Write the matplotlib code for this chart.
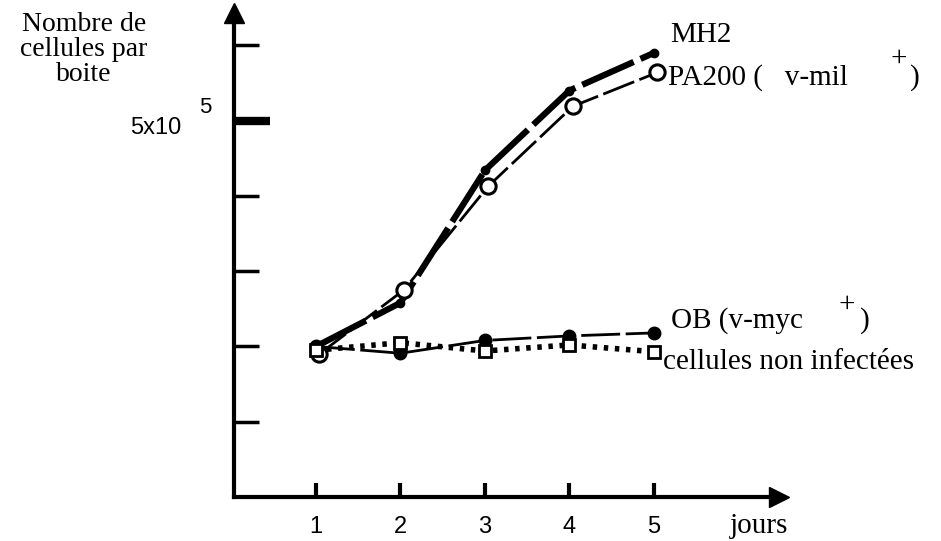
import numpy as np
import matplotlib.pyplot as plt

# jours et nombre de cellules (unites de 1e5)
jours = [1, 2, 3, 4, 5]
mh2 = [2.00, 2.58, 4.34, 5.40, 5.90]
pa200 = [1.90, 2.75, 4.13, 5.19, 5.64]
ob = [2.00, 1.91, 2.08, 2.14, 2.18]
non_inf = [1.95, 2.05, 1.94, 2.02, 1.93]

y_ticks = [1, 2, 3, 4, 5, 6]
x_labels = ["1", "2", "3", "4", "5"]

W, H = 941, 541
fig = plt.figure(figsize=(W / 100, H / 100), dpi=100)
# axes placed in pixels: x 234..779, y 497..13
ax = fig.add_axes([234 / W, (H - 497) / H, 545 / W, 484 / H])
ax.set_xlim(0.03, 6.48)
ax.set_ylim(0, 6.43)

for s in ["top", "right"]:
    ax.spines[s].set_visible(False)
ax.spines["left"].set_linewidth(3)
ax.spines["bottom"].set_linewidth(3)

# arrow heads
ax.plot(1, 0, ">", transform=ax.transAxes, color="k", markersize=14, clip_on=False)
ax.plot(0, 1, "^", transform=ax.transAxes, color="k", markersize=14, clip_on=False)

ax.set_xticks(jours)
ax.set_xticklabels(x_labels, fontsize=17, family="Liberation Sans")
ax.tick_params(axis="x", direction="in", length=10, width=3, pad=14)
ax.set_yticks(y_ticks)
ax.set_yticklabels([])
ax.tick_params(axis="y", direction="in", length=18, width=2.5)
# thick tick at 5x10^5
ax.plot([0.03, 0.03 + 36 / 545 * 6.45], [5, 5], color="k", lw=6, solid_capstyle="butt",
        clip_on=False)

# series
ax.plot(jours, mh2, color="k", lw=4.5, dashes=(9, 1.2), zorder=3)
ax.plot(jours, mh2, "o", color="k", markersize=6, zorder=4)
ax.plot([j + 0.04 for j in jours], pa200, color="k", lw=2, dashes=(12, 2), zorder=3)
ax.plot([j + 0.04 for j in jours], pa200, "o", mfc="white", mec="k", mew=2.2,
        markersize=11, zorder=5)
ax.plot(jours, ob, color="k", lw=2, dashes=(14, 2), zorder=3)
ax.plot(jours, ob, "o", color="k", markersize=9, zorder=4)
ax.plot(jours, non_inf, color="k", lw=4, dashes=(0.8, 1.2), zorder=3)
ax.plot(jours, non_inf, "s", mfc="white", mec="k", mew=2, markersize=8, zorder=5)

serif = "Liberation Serif"
fs = 21
fig.text(84 / W, 1 - 12 / H, "Nombre de\ncellules par\nboite", family=serif, fontsize=20,
         ha="center", va="top", linespacing=1.0)
fig.text(130 / W, 1 - 134 / H, "5x10", family="Liberation Sans", fontsize=17,
         ha="left", va="baseline")
fig.text(199 / W, 1 - 113 / H, "5", family="Liberation Sans", fontsize=16,
         ha="left", va="baseline")
fig.text(670 / W, 1 - 42 / H, "MH2", family=serif, fontsize=fs, ha="left", va="baseline")
fig.text(668 / W, 1 - 85 / H, "PA200 (   v-mil", family=serif, fontsize=fs,
         ha="left", va="baseline")
fig.text(890 / W, 1 - 66 / H, "+", family=serif, fontsize=fs, ha="left", va="baseline")
fig.text(910 / W, 1 - 85 / H, ")", family=serif, fontsize=fs, ha="left", va="baseline")
fig.text(671 / W, 1 - 328 / H, "OB (v-myc", family=serif, fontsize=fs,
         ha="left", va="baseline")
fig.text(839 / W, 1 - 312 / H, "+", family=serif, fontsize=fs, ha="left", va="baseline")
fig.text(860 / W, 1 - 328 / H, ")", family=serif, fontsize=fs, ha="left", va="baseline")
fig.text(663 / W, 1 - 369 / H, "cellules non infectées", family=serif, fontsize=fs,
         ha="left", va="baseline")
fig.text(730 / W, 1 - 533 / H, "jours", family=serif, fontsize=fs, ha="left",
         va="baseline")

fig.savefig("out.png", dpi=100)
